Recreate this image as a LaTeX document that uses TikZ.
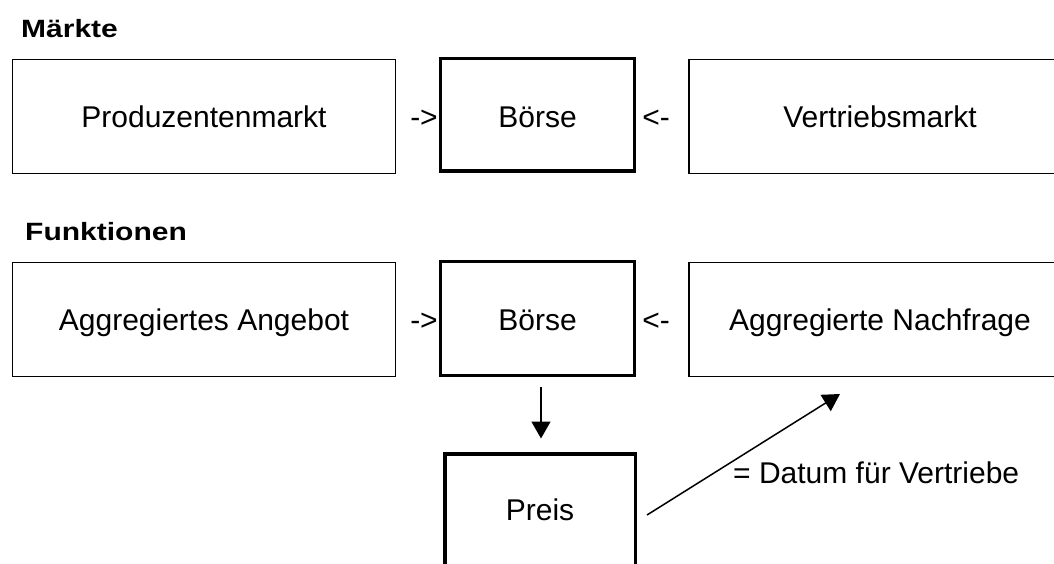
\documentclass[tikz,border=0pt]{standalone}
\usepackage{fontspec}
\setmainfont{Liberation Sans}
\newfontfamily\titlefont[FakeStretch=1.2]{Liberation Sans}
\usetikzlibrary{arrows.meta}
\begin{document}
\begin{tikzpicture}[x=1pt,y=-1pt,
  box/.style={draw, rectangle, line width=1.5pt, inner sep=0pt,
    text height=21.5pt, text depth=0pt, font=\fontsize{30}{36}\selectfont},
  thickbox/.style={box, line width=3.5pt},
  lbl/.style={inner sep=0pt, text height=21.5pt, text depth=0pt,
    font=\fontsize{30}{36}\selectfont},
  ttl/.style={inner sep=0pt, anchor=base west,
    font=\titlefont\bfseries\fontsize{25}{30}\selectfont},
  conn/.style={line width=1.5pt, -{Triangle[width=19pt,length=17pt]}}]
\useasboundingbox (0,0) rectangle (1054,564);
\clip (0,0) rectangle (1054,564);

% titles
\node[ttl] (tmaerkte) at (21,38) {Märkte};
\node[ttl] (tfunk) at (25,240) {Funktionen};

% row 1
\node[box, minimum width=383pt, minimum height=114pt] (prod) at (204,116.5) {Produzentenmarkt};
\node[thickbox, text height=24.5pt, minimum width=194pt, minimum height=112.5pt] (boerseA) at (537.5,115) {Börse};
\node[box, minimum width=382pt, minimum height=114pt] (vert) at (880,116.5) {Vertriebsmarkt};
\node[lbl] (arA) at (424,117) {-{}>};
\node[lbl] (arB) at (656,117) {<-};

% row 2
\node[box, minimum width=383pt, minimum height=114pt] (angebot) at (204,319.5) {Aggregiertes Angebot};
\node[thickbox, text height=23.5pt, minimum width=194pt, minimum height=114pt] (boerseB) at (537.5,318.5) {Börse};
\node[box, minimum width=382pt, minimum height=114pt] (nachfrage) at (880,319.5) {Aggregierte Nachfrage};
\node[lbl] (arC) at (424,320) {-{}>};
\node[lbl] (arD) at (656,320) {<-};

% Preis
\node[thickbox, minimum width=190.5pt, minimum height=112.5pt] (preis) at (540,510) {Preis};

% connectors
\draw[conn, shorten <=10pt, shorten >=13.5pt] ([xshift=3.5pt]boerseB.south) -- ([xshift=1pt]preis.north);
\coordinate (dtip) at (840,394);
\draw[conn] ([xshift=10pt,yshift=-5pt]preis.east) -- (dtip);
\node[lbl, anchor=west] (datum) at (733,473) {= Datum für Vertriebe};
\end{tikzpicture}
\end{document}
